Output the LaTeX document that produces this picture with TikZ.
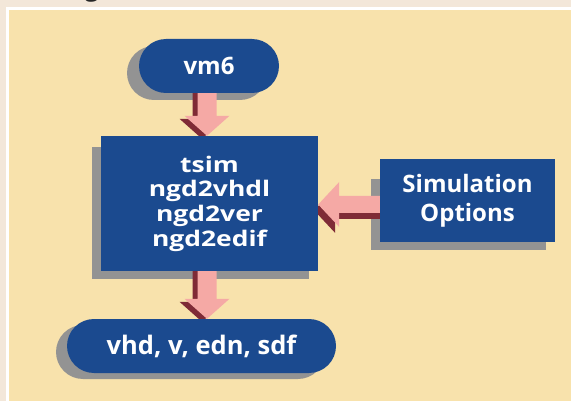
\documentclass[tikz,border=0pt]{standalone}
\usepackage{fontspec}
\setmainfont{Open Sans}
\newfontfamily\widefont[FakeStretch=1.23]{Open Sans}
\usetikzlibrary{calc}
\definecolor{outerbg}{HTML}{F3E7D9}
\definecolor{beige}{HTML}{F8E2AC}
\definecolor{boxblue}{HTML}{1B4A8F}
\definecolor{shadowgrey}{HTML}{939393}
\definecolor{arrowpink}{HTML}{F5A9A5}
\definecolor{arrowdark}{HTML}{7F2B36}
\pgfdeclarelayer{bgbg}
\pgfdeclarelayer{bg}
\pgfsetlayers{bgbg,bg,main}
\tikzset{
  bluebox/.style={fill=boxblue, text=white, inner sep=0pt, align=center, font=\bfseries},
  pillbox/.style={bluebox, rounded corners=27pt},
  greyshadow/.style={fill=shadowgrey}
}
\newcommand\blkdown[5]{%
  \fill[#5] let \p1=#1, \p2=#2 in
   (\x1-9.5pt+#3,\y1+#4) -- (\x1-9.5pt+#3,\y2+20pt+#4) -- (\x1-22.5pt+#3,\y2+20pt+#4) --
   (\x1+#3,\y2+#4) -- (\x1+22.5pt+#3,\y2+20pt+#4) -- (\x1+9.5pt+#3,\y2+20pt+#4) --
   (\x1+9.5pt+#3,\y1+#4) -- cycle;}
\newcommand\blkleft[5]{%
  \fill[#5] let \p1=#1, \p2=#2 in
   (\x1+#3,\y1+8.5pt+#4) -- (\x2+21pt+#3,\y1+8.5pt+#4) -- (\x2+21pt+#3,\y1+22.5pt+#4) --
   (\x2+#3,\y1+#4) -- (\x2+21pt+#3,\y1-22.5pt+#4) -- (\x2+21pt+#3,\y1-8.5pt+#4) --
   (\x1+#3,\y1-8.5pt+#4) -- cycle;}
\begin{document}
\begin{tikzpicture}[x=1pt,y=-1pt]
\useasboundingbox (0,0) rectangle (571,401);
\begin{pgfonlayer}{bgbg}
  \fill[outerbg] (0,0) rectangle (571,401);
  \fill[white] (5.5,7.5) rectangle (571,401);
  \fill[beige] (8.7,10.5) rectangle (571,401);
  % shadows
  \fill[greyshadow, rounded corners=27pt] (127,46) rectangle (267,100);
  \fill[greyshadow] (92,147) rectangle (309,279);
  \fill[greyshadow] (371,179) rectangle (546,250);
  \fill[greyshadow, rounded corners=27pt] (56,325) rectangle (325,379);
\end{pgfonlayer}

\node[anchor=base, text=black!85, font=\fontsize{24}{28}\selectfont\bfseries] (gtitle) at (92,-3) {g};

\node[pillbox, minimum width=140pt, minimum height=54pt, font=\fontsize{24}{28}\selectfont\bfseries] (vm6) at (209,66) {vm6};
\node[bluebox, minimum width=217pt, minimum height=135pt, font=\widefont\fontsize{21.5}{24.7}\selectfont\bfseries] (main) at (209.5,203.5) {tsim\\ngd2vhdl\\ngd2ver\\ngd2edif};
\node[bluebox, minimum width=175pt, minimum height=83pt, font=\fontsize{24}{29}\selectfont\bfseries] (sim) at (467.5,200.5) {Simulation\\Options};
\node[pillbox, minimum width=269pt, minimum height=54pt, font=\fontsize{25.5}{30}\selectfont\bfseries] (out) at (201.5,346) {vhd, v, edn, sdf};

\coordinate (s1) at ($(vm6.south)+(-2,-4)$);
\coordinate (t1) at (main.north -| s1);
\coordinate (s2) at ($(main.south -| s1)+(0,-4)$);
\coordinate (t2) at (out.north -| s1);
\coordinate (s3) at ($(sim.west)+(5,4)$);
\coordinate (t3) at (main.east |- s3);

\begin{pgfonlayer}{bg}
  \blkdown{(s1)}{(t1)}{-5pt}{-3pt}{arrowdark}
  \blkdown{(s1)}{(t1)}{0pt}{0pt}{arrowpink}
  \blkdown{(s2)}{(t2)}{-5pt}{-3pt}{arrowdark}
  \blkdown{(s2)}{(t2)}{0pt}{0pt}{arrowpink}
  \blkleft{(s3)}{(t3)}{-4pt}{-6pt}{arrowdark}
  \blkleft{(s3)}{(t3)}{0pt}{0pt}{arrowpink}
\end{pgfonlayer}
\end{tikzpicture}
\end{document}
